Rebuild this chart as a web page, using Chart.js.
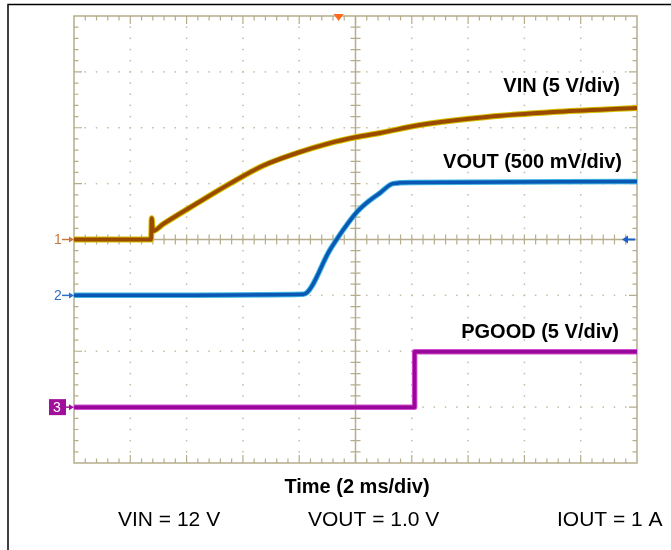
<!DOCTYPE html>
<html>
<head>
<meta charset="utf-8">
<script src="https://cdn.jsdelivr.net/npm/chart.js@4/dist/chart.umd.min.js"></script>
<style>
  html, body { margin: 0; padding: 0; background: #fff; }
  #wrap { position: relative; width: 671px; height: 550px; }
</style>
</head>
<body>
<div id="wrap"><canvas id="scope" width="671" height="550"></canvas></div>
<script>
// time in ms (2 ms/div), values in volts
const vin_t = [0, 2.74, 2.76, 2.80, 3.16, 4.37, 5.54, 6.71, 7.92, 9.09, 10.05, 10.87, 12.29, 14.67, 17.02, 20];
const vin_v = [0, 0, 1.9, 0.75, 1.37, 3.24, 5.0, 6.6, 7.74, 8.63, 9.17, 9.53, 10.24, 10.96, 11.40, 11.76];

const vout_t = [0, 8.14, 9.09, 9.20, 9.56, 10.05, 10.52, 10.87, 11.33, 12.04, 20];
const vout_v = [0, 0.01, 0.406, 0.45, 0.585, 0.746, 0.853, 0.916, 1.0, 1.01, 1.02];

const pgood_t = [0, 12.1, 12.1, 20];
const pgood_v = [0, 0, 4.95, 4.95];

// channel settings: volts per div, ground position in div
const vin_scale = 5, vin_ofs = 0;
const vout_scale = 0.5, vout_ofs = -1;
const pgood_scale = 5, pgood_ofs = -3;
const trig_t = 9.4;

const labels_right = ['VIN (5 V/div)', 'VOUT (500 mV/div)', 'PGOOD (5 V/div)'];
const x_title = 'Time (2 ms/div)';
const conditions = ['VIN = 12 V', 'VOUT = 1.0 V', 'IOUT = 1 A'];

function to_points(ts, vs, scale, ofs) {
	return ts.map((t, i) => ({ x: t, y: vs[i] / scale + ofs }));
}

const GRID = '#b5ad8c';

const scopeGrid = {
	id: 'scopeGrid',
	beforeDatasetsDraw(chart) {
		const ctx = chart.ctx, xs = chart.scales.x, ys = chart.scales.y;
		const a = chart.chartArea;
		const px = d => xs.getPixelForValue(d * 2);   // div -> pixel
		const py = d => ys.getPixelForValue(d);
		ctx.save();
		// dotted grid
		ctx.fillStyle = '#c2bb9e';
		for (let i = 1; i < 10; i++) {
			if (i === 5) continue;
			for (let k = 1; k < 40; k++) ctx.fillRect(px(i) - 0.75, py(-4 + k * 0.2) - 0.75, 1.5, 1.5);
		}
		for (let j = -3; j <= 3; j++) {
			if (j === 0) continue;
			for (let k = 1; k < 50; k++) ctx.fillRect(px(k * 0.2) - 0.75, py(j) - 0.75, 1.5, 1.5);
		}
		ctx.strokeStyle = GRID;
		ctx.lineWidth = 1.5;
		ctx.strokeRect(a.left, a.top, a.right - a.left, a.bottom - a.top);
		// center cross
		ctx.beginPath();
		ctx.moveTo(px(5), a.top); ctx.lineTo(px(5), a.bottom);
		ctx.moveTo(a.left, py(0)); ctx.lineTo(a.right, py(0));
		ctx.stroke();
		ctx.lineWidth = 1.2;
		ctx.beginPath();
		for (let k = 1; k < 50; k++) {
			const x = px(k * 0.2), major = k % 5 === 0;
			const l = major ? 8 : 4.5;
			ctx.moveTo(x, a.top); ctx.lineTo(x, a.top + l);
			ctx.moveTo(x, a.bottom); ctx.lineTo(x, a.bottom - l);
			ctx.moveTo(x, py(0) - 5); ctx.lineTo(x, py(0) + 5);
		}
		for (let k = 1; k < 40; k++) {
			const y = py(-4 + k * 0.2), major = k % 5 === 0;
			const l = major ? 8 : 4.5;
			ctx.moveTo(a.left, y); ctx.lineTo(a.left + l, y);
			ctx.moveTo(a.right, y); ctx.lineTo(a.right - l, y);
			ctx.moveTo(px(5) - 5, y); ctx.lineTo(px(5) + 5, y);
		}
		ctx.stroke();
		ctx.restore();
	},
	afterDatasetsDraw(chart) {
		const ctx = chart.ctx, xs = chart.scales.x, ys = chart.scales.y;
		const a = chart.chartArea;
		ctx.save();
		// channel ground markers
		const arrow = (y, col) => {
			ctx.strokeStyle = col; ctx.fillStyle = col; ctx.lineWidth = 1.5;
			ctx.beginPath(); ctx.moveTo(a.left - 12, y); ctx.lineTo(a.left - 2, y); ctx.stroke();
			ctx.beginPath(); ctx.moveTo(a.left, y); ctx.lineTo(a.left - 5, y - 3); ctx.lineTo(a.left - 5, y + 3); ctx.fill();
		};
		ctx.font = '14px "Liberation Sans", Arial, sans-serif';
		ctx.textAlign = 'center'; ctx.textBaseline = 'middle';
		const y1 = ys.getPixelForValue(vin_ofs), y2 = ys.getPixelForValue(vout_ofs), y3 = ys.getPixelForValue(pgood_ofs);
		arrow(y1, '#c8783c');
		ctx.fillStyle = '#c8783c'; ctx.fillText('1', a.left - 16, y1 + 1);
		arrow(y2, '#2f6fc8');
		ctx.fillStyle = '#2f6fc8'; ctx.fillText('2', a.left - 16, y2 + 1);
		ctx.fillStyle = '#a0109c';
		ctx.fillRect(a.left - 25, y3 - 8, 17, 16);
		arrow(y3, '#a0109c');
		ctx.fillStyle = '#fff'; ctx.fillText('3', a.left - 17, y3 + 1);
		// trigger marker
		const tx = xs.getPixelForValue(trig_t);
		ctx.fillStyle = '#ff6a1e';
		ctx.beginPath(); ctx.moveTo(tx - 5, a.top - 2); ctx.lineTo(tx + 5, a.top - 2); ctx.lineTo(tx, a.top + 5); ctx.fill();
		// trigger level arrow on right
		ctx.strokeStyle = '#1f5fc8'; ctx.fillStyle = '#1f5fc8'; ctx.lineWidth = 2;
		ctx.beginPath(); ctx.moveTo(a.right - 2, y1); ctx.lineTo(a.right - 12, y1); ctx.stroke();
		ctx.beginPath(); ctx.moveTo(a.right - 15, y1); ctx.lineTo(a.right - 9, y1 - 4); ctx.lineTo(a.right - 9, y1 + 4); ctx.fill();
		// labels
		ctx.fillStyle = '#000';
		ctx.textBaseline = 'alphabetic';
		ctx.font = 'bold 20px "Liberation Sans", Arial, sans-serif';
		ctx.textAlign = 'right';
		ctx.fillText(labels_right[0], 620, 92);
		ctx.fillText(labels_right[1], 622, 168);
		ctx.fillText(labels_right[2], 619, 338);
		ctx.textAlign = 'center';
		ctx.fillText(x_title, 357, 493);
		ctx.font = '21px "Liberation Sans", Arial, sans-serif';
		ctx.textAlign = 'left';
		ctx.fillText(conditions[0], 118, 526);
		ctx.fillText(conditions[1], 308, 526);
		ctx.fillText(conditions[2], 557, 526);
		// page frame
		ctx.strokeStyle = '#000'; ctx.lineWidth = 1.5;
		ctx.beginPath(); ctx.moveTo(8, 550); ctx.lineTo(8, 4.5); ctx.lineTo(671, 4.5); ctx.stroke();
		ctx.restore();
	}
};

// order: lower number is drawn on top
function trace(data, color, width, order, mode) {
	return {
		data: data, borderColor: color, borderWidth: width, pointRadius: 0,
		fill: false, tension: 0, cubicInterpolationMode: mode || 'default',
		borderJoinStyle: 'round', borderCapStyle: 'butt', order: order
	};
}

const vin_pts = to_points(vin_t, vin_v, vin_scale, vin_ofs);
const vout_pts = to_points(vout_t, vout_v, vout_scale, vout_ofs);
const pgood_pts = to_points(pgood_t, pgood_v, pgood_scale, pgood_ofs);

new Chart(document.getElementById('scope'), {
	type: 'line',
	data: {
		datasets: [
			trace(vin_pts, '#9a4a00', 4, 0, 'monotone'),
			trace(vin_pts, '#d6c000', 6, 1, 'monotone'),
			trace(vout_pts, '#0a57b4', 3.5, 2, 'monotone'),
			trace(vout_pts, '#3fb6e2', 5.5, 3, 'monotone'),
			trace(pgood_pts, '#98089a', 3.5, 4),
			trace(pgood_pts, '#d24fd0', 5.5, 5)
		]
	},
	options: {
		responsive: false,
		animation: false,
		layout: { padding: { left: 74, right: 34, top: 16, bottom: 87 } },
		plugins: { legend: { display: false }, tooltip: { enabled: false } },
		scales: {
			x: { type: 'linear', min: 0, max: 20, display: false },
			y: { type: 'linear', min: -4, max: 4, display: false }
		}
	},
	plugins: [scopeGrid]
});
</script>
</body>
</html>
